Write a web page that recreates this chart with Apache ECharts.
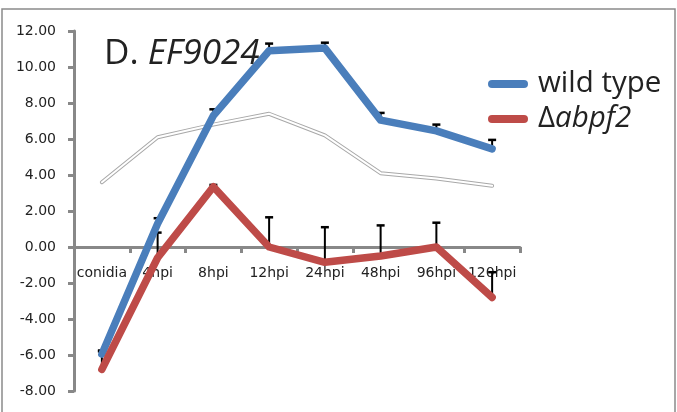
<!DOCTYPE html>
<html>
<head>
<meta charset="utf-8">
<script src="https://cdn.jsdelivr.net/npm/echarts@6/dist/echarts.min.js"></script>
<style>
html,body{margin:0;padding:0;background:#fff;}
#chart{width:677px;height:412px;}
</style>
</head>
<body>
<div id="chart"></div>
<script>
const categories = ['conidia', '4hpi', '8hpi', '12hpi', '24hpi', '48hpi', '96hpi', '120hpi'];
const wildType = [-5.95, 1.3, 7.3, 10.9, 11.05, 7.05, 6.45, 5.45];
const wildTypeErr = [0.2, 0.3, 0.35, 0.4, 0.3, 0.4, 0.35, 0.5];
const abpf2 = [-6.8, -0.6, 3.35, 0.0, -0.85, -0.5, 0.0, -2.8];
const abpf2Err = [1.0, 1.4, 0.1, 1.65, 1.95, 1.7, 1.35, 1.4];
const unlabeled = [3.6, 6.1, 6.8, 7.4, 6.2, 4.1, 3.8, 3.4];
const yTicks = { min: -8, max: 12, interval: 2 };

const chart = echarts.init(document.getElementById('chart'));

function errorBars(vals, errs, name) {
  return {
    type: 'custom',
    name: name + ' err',
    z: 1,
    silent: true,
    data: vals.map((v, i) => [i, v, v + errs[i]]),
    renderItem: function (params, api) {
      const base = api.coord([api.value(0), api.value(1)]);
      const top = api.coord([api.value(0), api.value(2)]);
      const cw = 4;
      return {
        type: 'group',
        children: [
          { type: 'line', shape: { x1: base[0], y1: base[1], x2: top[0], y2: top[1] }, style: { stroke: '#000', lineWidth: 2 } },
          { type: 'line', shape: { x1: top[0] - cw, y1: top[1], x2: top[0] + cw, y2: top[1] }, style: { stroke: '#000', lineWidth: 2.5 } }
        ]
      };
    }
  };
}

const axisColor = '#888888';
const gridTop = 31, gridBottom = 21, chartH = 412;
// pixel offset that places the category axis at the value 0
const zeroOffset = -((chartH - gridTop - gridBottom) * (0 - yTicks.min) / (yTicks.max - yTicks.min));

chart.setOption({
  animation: false,
  backgroundColor: '#fff',
  title: {
    text: '{a|D. }{b|EF9024}',
    left: 99,
    top: 32,
    textStyle: {
      fontWeight: 'normal',
      rich: {
        a: { fontFamily: 'Open Sans', fontSize: 35, fontWeight: 'normal', color: '#222' },
        b: { fontFamily: 'Open Sans', fontSize: 35, fontWeight: 'normal', fontStyle: 'italic', color: '#222' }
      }
    }
  },
  legend: {
    orient: 'vertical',
    left: 483,
    top: 64,
    itemWidth: 40,
    itemHeight: 8,
    itemGap: 5,
    icon: 'path://M4,0 L36,0 A4,4 0 0 1 36,8 L4,8 A4,4 0 0 1 4,0 Z',
    data: ['wild type', 'Δabpf2'],
    formatter: function (n) { return n === 'Δabpf2' ? '{n|Δ}{i|abpf2}' : '{n|' + n + '}'; },
    textStyle: {
      padding: [0, 0, 0, 5],
      rich: {
        n: { fontFamily: 'Open Sans', fontSize: 29.5, color: '#222', lineHeight: 30 },
        i: { fontFamily: 'Open Sans', fontSize: 29.5, fontStyle: 'italic', color: '#222', lineHeight: 30 }
      }
    }
  },
  grid: { left: 74, right: 157, top: gridTop, bottom: gridBottom, outerBoundsMode: 'none', containLabel: false },
  xAxis: {
    type: 'category',
    data: categories,
    boundaryGap: true,
    position: 'bottom',
    offset: zeroOffset,
    axisLine: { onZero: false, lineStyle: { color: axisColor, width: 3 } },
    axisTick: { show: true, length: 6, lineStyle: { color: axisColor, width: 3 } },
    axisLabel: { fontFamily: 'DejaVu Sans', fontSize: 14, color: '#222', margin: 19, interval: 0 },
    splitLine: { show: false }
  },
  yAxis: {
    type: 'value',
    min: yTicks.min,
    max: yTicks.max,
    interval: yTicks.interval,
    axisLine: { show: true, lineStyle: { color: axisColor, width: 3 } },
    axisTick: { show: true, length: 6, lineStyle: { color: axisColor, width: 3 } },
    axisLabel: { fontFamily: 'DejaVu Sans', fontSize: 14, color: '#222', margin: 18, formatter: v => v.toFixed(2) },
    splitLine: { show: false }
  },
  graphic: [
    { type: 'rect', shape: { x: 2, y: 9, width: 673, height: 420 }, style: { fill: 'none', stroke: '#8a8a8a', lineWidth: 1.5 }, z: 0, silent: true }
  ],
  series: [
    {
      name: 'unlabeled outer', type: 'line', data: unlabeled, symbol: 'none', z: 2, silent: true,
      lineStyle: { color: '#a8a8a8', width: 4, cap: 'round', join: 'round' }
    },
    {
      name: 'unlabeled inner', type: 'line', data: unlabeled, symbol: 'none', z: 3, silent: true,
      lineStyle: { color: '#ffffff', width: 2, cap: 'round', join: 'round' }
    },
    errorBars(wildType, wildTypeErr, 'wild type'),
    errorBars(abpf2, abpf2Err, 'Δabpf2'),
    {
      name: 'wild type', type: 'line', data: wildType, symbol: 'none', z: 5,
      itemStyle: { color: '#4a7ebb' },
      lineStyle: { color: '#4a7ebb', width: 7.5, cap: 'round', join: 'round' }
    },
    {
      name: 'Δabpf2', type: 'line', data: abpf2, symbol: 'none', z: 6,
      itemStyle: { color: '#be4b48' },
      lineStyle: { color: '#be4b48', width: 7.5, cap: 'round', join: 'round' }
    }
  ]
});
</script>
</body>
</html>
